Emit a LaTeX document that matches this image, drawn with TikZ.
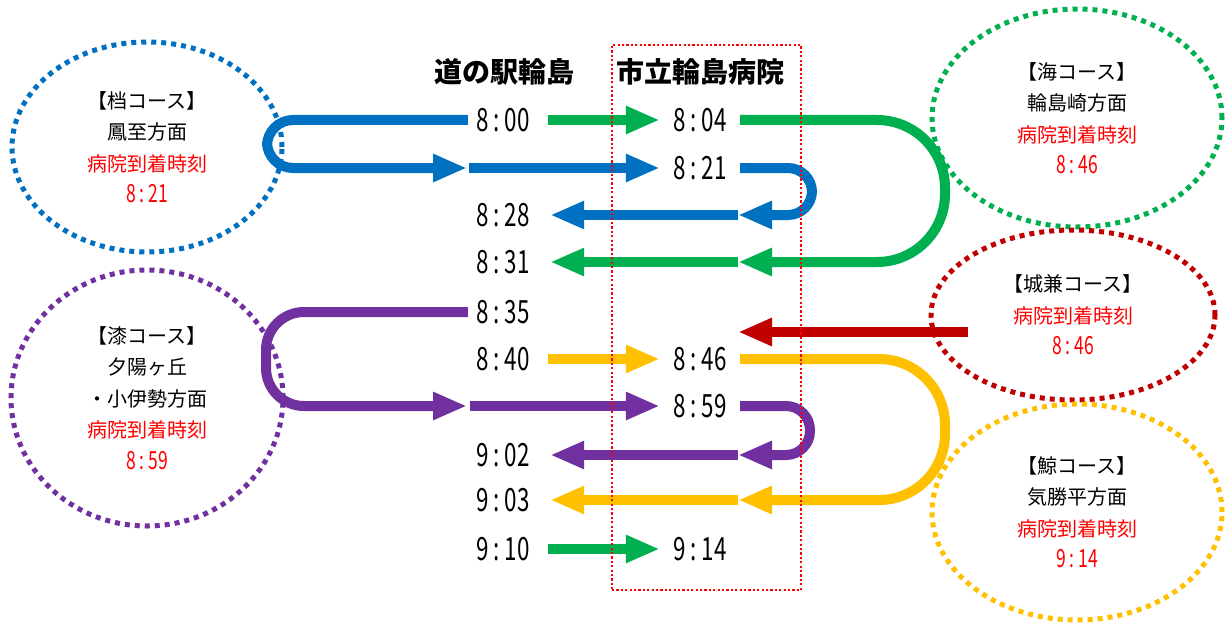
\documentclass[tikz,border=0pt]{standalone}
\usepackage{fontspec}
\setmainfont{Noto Sans CJK JP}
\newfontfamily\tnum[FakeStretch=0.7]{Noto Sans CJK JP}
\usetikzlibrary{arrows.meta,shapes.geometric}
\definecolor{cB}{HTML}{0070C0}
\definecolor{cG}{HTML}{00B050}
\definecolor{cP}{HTML}{7030A0}
\definecolor{cR}{HTML}{C00000}
\definecolor{cY}{HTML}{FFC000}
\definecolor{txtred}{HTML}{FF0000}
\tikzset{
  tm/.style={font=\tnum\fontsize{32}{32}\selectfont, inner sep=0pt, minimum width=60, minimum height=24},
  ttl/.style={font=\fontsize{28}{28}\selectfont\bfseries, inner sep=0pt},
  ln/.style={draw=#1, line width=10pt},
  arr/.style={-{Triangle[length=34pt,width=26pt]}},
  course/.style={ellipse, draw=#1, line width=5pt, dash pattern=on 5pt off 5pt, inner sep=0pt,
     align=center, font=\fontsize{20}{31.5}\selectfont},
  hbox/.style={draw=txtred, line width=2.2pt, dash pattern=on 2.2pt off 2.2pt, inner sep=0pt},
}
\newcommand{\rtime}[2]{{\color{txtred}\tnum\fontsize{25}{31.5}\selectfont #1\kern4pt:\kern4pt#2}}
\begin{document}
\begin{tikzpicture}[x=1pt,y=-1pt]
\useasboundingbox (0,0) rectangle (1225,623);
% titles
\node[ttl] (michi) at (504,72) {道の駅輪島};
\node[ttl] (byoin) at (700,72) {市立輪島病院};
% times left
\node[tm] (t800) at (503,120) {8\kern5pt:\kern5pt00};
\node[tm] (t828) at (503,215) {8\kern5pt:\kern5pt28};
\node[tm] (t831) at (503,262) {8\kern5pt:\kern5pt31};
\node[tm] (t835) at (503,312) {8\kern5pt:\kern5pt35};
\node[tm] (t840) at (503,359) {8\kern5pt:\kern5pt40};
\node[tm] (t902) at (503,455) {9\kern5pt:\kern5pt02};
\node[tm] (t903) at (503,500) {9\kern5pt:\kern5pt03};
\node[tm] (t910) at (503,549) {9\kern5pt:\kern5pt10};
% times right
\node[tm] (t804) at (700,120) {8\kern5pt:\kern5pt04};
\node[tm] (t821) at (700,168) {8\kern5pt:\kern5pt21};
\node[tm] (t846) at (700,359) {8\kern5pt:\kern5pt46};
\node[tm] (t859) at (700,406) {8\kern5pt:\kern5pt59};
\node[tm] (t914) at (700,549) {9\kern5pt:\kern5pt14};
% coordinates
\coordinate (b1) at (467,168);
\coordinate (b2) at (738,215);
\coordinate (g1) at (738,262);
\coordinate (r0) at (968,332);
\coordinate (r1) at (738,332);
\coordinate (y1) at (738,500);
\coordinate (p1) at (467,406);
\coordinate (p2) at (738,455);
% blue
\draw[ln=cB, arr, rounded corners=26pt] ([xshift=-5pt]t800.west) -- (267,120) -- (267,168) -- (b1);
\draw[ln=cB, arr] ([xshift=2pt]b1) -- ([xshift=-10pt]t821.west);
\draw[ln=cB, arr, rounded corners=24pt] ([xshift=10pt]t821.east) -- (812,168) -- (812,215) -- (b2);
\draw[ln=cB, arr] (b2) -- ([xshift=17pt]t828.east);
% green
\draw[ln=cG, arr] ([xshift=15pt]t800.east) -- ([xshift=-10pt]t804.west);
\draw[ln=cG, arr, rounded corners=68pt] ([xshift=10pt]t804.east) -- (945,120) -- (945,262) -- (g1);
\draw[ln=cG, arr] (g1) -- ([xshift=17pt]t831.east);
\draw[ln=cG, arr] ([xshift=15pt]t910.east) -- ([xshift=-10pt]t914.west);
% red
\draw[ln=cR, arr] (r0) -- (r1);
% yellow
\draw[ln=cY, arr] ([xshift=15pt]t840.east) -- ([xshift=-10pt]t846.west);
\draw[ln=cY, arr, rounded corners=66pt] ([xshift=10pt]t846.east) -- (945,359) -- (945,500) -- (y1);
\draw[ln=cY, arr] (y1) -- ([xshift=17pt]t903.east);
% purple
\draw[ln=cP, arr, rounded corners=38pt] ([xshift=-5pt]t835.west) -- (266,312) -- (266,406) -- (p1);
\draw[ln=cP, arr] ([xshift=3pt]p1) -- ([xshift=-10pt]t859.west);
\draw[ln=cP, arr, rounded corners=24pt] ([xshift=10pt]t859.east) -- (810,406) -- (810,455) -- (p2);
\draw[ln=cP, arr] (p2) -- ([xshift=17pt]t902.east);
% hospital box
\node[hbox, minimum width=189pt, minimum height=545pt] (hosp) at (706.5,317.5) {};
% course ellipses
\node[course=cB, minimum width=270pt, minimum height=210pt] (kaib) at (147,147)
  {【档コース】\\鳳至方面\\{\color{txtred}病院到着時刻}\\\rtime{8}{21}};
\node[course=cP, minimum width=272pt, minimum height=256pt] (urushi) at (147,398)
  {【漆コース】\\夕陽ヶ丘\\・小伊勢方面\\{\color{txtred}病院到着時刻}\\\rtime{8}{59}};
\node[course=cG, minimum width=290pt, minimum height=218pt] (umi) at (1077,118)
  {【海コース】\\輪島崎方面\\{\color{txtred}病院到着時刻}\\\rtime{8}{46}};
\node[course=cR, minimum width=284pt, minimum height=170pt] (joken) at (1073,315)
  {【城兼コース】\\{\color{txtred}病院到着時刻}\\\rtime{8}{46}};
\node[course=cY, minimum width=290pt, minimum height=216pt] (kujira) at (1077,512)
  {【鯨コース】\\気勝平方面\\{\color{txtred}病院到着時刻}\\\rtime{9}{14}};
\end{tikzpicture}
\end{document}
